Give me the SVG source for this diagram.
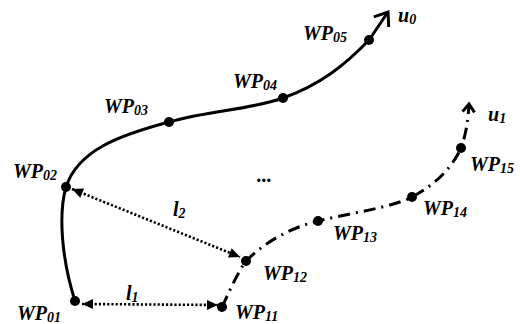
<svg xmlns="http://www.w3.org/2000/svg" width="520" height="324" viewBox="0 0 520 324">
<style>
.lbl{font-family:"Liberation Serif","Times New Roman",serif;font-weight:bold;font-style:italic;font-size:20px;fill:#000}
.sub{font-size:14px}
.path0{fill:none;stroke:#000;stroke-width:3}
.path1{fill:none;stroke:#000;stroke-width:3;stroke-dasharray:12 6 2 6}
.dist{fill:none;stroke:#000;stroke-width:2.6;stroke-dasharray:2.2 2}
.dot{fill:#000}
</style>
<defs>
<marker id="open0" markerUnits="userSpaceOnUse" markerWidth="16" markerHeight="22" refX="12" refY="9" orient="auto" overflow="visible">
<path d="M0,0 L12,9 L0,18" fill="none" stroke="#000" stroke-width="3"/>
</marker>
<marker id="open1" markerUnits="userSpaceOnUse" markerWidth="12" markerHeight="16" refX="8" refY="6" orient="auto" overflow="visible">
<path d="M0,0 L8,6 L0,12" fill="none" stroke="#000" stroke-width="3"/>
</marker>
<marker id="tri" markerUnits="userSpaceOnUse" markerWidth="12" markerHeight="10" refX="11" refY="5" orient="auto-start-reverse" overflow="visible">
<path d="M0,0 L11,5 L0,10 z" fill="#000"/>
</marker>
</defs>
<g id="connectors">
<path id="u0-path" class="path0" d="M75,301 C62,260 58,215 66,187 C78,150 120,135 169,122 C210,110 250,110 283,98 C320,85 345,65 369,40 L388,12" marker-end="url(#open0)"/>
<path id="u1-path" class="path1" d="M222,307 C230,290 238,272 246,261 C265,242 290,228 318,221 C350,213 390,208 412,197 C435,185 452,168 461,148 C466,135 468,120 469,104" marker-end="url(#open1)"/>
<path id="l1" class="dist" d="M82,304 L218,305" marker-start="url(#tri)" marker-end="url(#tri)"/>
<path id="l2" class="dist" d="M72,189 L240,257" marker-start="url(#tri)" marker-end="url(#tri)"/>
</g>
<g id="WP01"><circle class="dot" cx="75" cy="301" r="5"/><text class="lbl" x="17" y="320">WP<tspan class="sub" dy="2">01</tspan></text></g>
<g id="WP02"><circle class="dot" cx="66" cy="187" r="5"/><text class="lbl" x="13" y="178">WP<tspan class="sub" dy="2">02</tspan></text></g>
<g id="WP03"><circle class="dot" cx="169" cy="122" r="5"/><text class="lbl" x="104" y="113">WP<tspan class="sub" dy="2">03</tspan></text></g>
<g id="WP04"><circle class="dot" cx="283" cy="98" r="5"/><text class="lbl" x="233" y="88">WP<tspan class="sub" dy="2">04</tspan></text></g>
<g id="WP05"><circle class="dot" cx="369" cy="40" r="5"/><text class="lbl" x="303" y="40">WP<tspan class="sub" dy="2">05</tspan></text></g>
<g id="WP11"><circle class="dot" cx="222" cy="307" r="5"/><text class="lbl" x="235" y="319">WP<tspan class="sub" dy="2">11</tspan></text></g>
<g id="WP12"><circle class="dot" cx="246" cy="261" r="5"/><text class="lbl" x="263" y="280">WP<tspan class="sub" dy="2">12</tspan></text></g>
<g id="WP13"><circle class="dot" cx="318" cy="221" r="5"/><text class="lbl" x="333" y="240">WP<tspan class="sub" dy="2">13</tspan></text></g>
<g id="WP14"><circle class="dot" cx="412" cy="197" r="5"/><text class="lbl" x="423" y="215">WP<tspan class="sub" dy="2">14</tspan></text></g>
<g id="WP15"><circle class="dot" cx="461" cy="148" r="5"/><text class="lbl" x="470" y="171">WP<tspan class="sub" dy="2">15</tspan></text></g>
<g id="labels">
<text class="lbl" x="398" y="22">u<tspan class="sub" dy="2">0</tspan></text>
<text class="lbl" x="488" y="121">u<tspan class="sub" dy="2">1</tspan></text>
<text class="lbl" x="126" y="300">l<tspan class="sub" dy="2">1</tspan></text>
<text class="lbl" x="173" y="216">l<tspan class="sub" dy="2">2</tspan></text>
<text class="lbl" x="257" y="182">...</text>
</g>
</svg>
